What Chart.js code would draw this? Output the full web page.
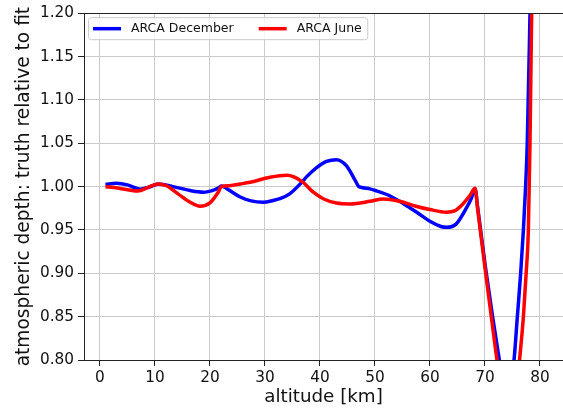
<!DOCTYPE html>
<html>
<head>
<meta charset="utf-8">
<script src="https://cdn.jsdelivr.net/npm/chart.js@4"></script>
<style>
    html, body { margin: 0; padding: 0; background: #fff; }
    #wrap { width: 563px; height: 409px; }
</style>
</head>
<body>
<div id="wrap"><canvas id="depthRatio" width="563" height="409"></canvas></div>
<script>
// altitude [km] and truth/fit ratio, December profile
const altDec = [1, 3, 5, 7.3, 9, 10.6, 13.3, 16.4, 18.8, 20.9, 21.7, 22.1, 22.6, 23.6, 25.5, 27.5,
    29.7, 31.5, 32.7, 34.5, 36.7, 37.6, 39.4, 41.2, 43, 44.8, 46.1, 46.6, 47.0, 47.6, 49.1, 50.3,
    52.5, 54.5, 56, 57.6, 60, 62, 63, 64.8, 66.7, 67.5, 68.2, 68.7, 70.1, 71.4, 72.7, 73.6,
    74.4, 75.3, 75.9, 76.5, 77.0, 77.4, 77.7, 78.2, 78.6];
const depthDec = [1.0025, 1.0038, 1.002, 0.997, 0.9995, 1.003, 1.000, 0.9954, 0.9935, 0.9966, 0.999, 1.0008, 0.9995, 0.9954, 0.988, 0.9835,
    0.982, 0.984, 0.986, 0.9916, 1.005, 1.0115, 1.022, 1.029, 1.031, 1.0241, 1.0107, 1.005, 1.0004, 0.999, 0.9974, 0.995,
    0.990, 0.983, 0.977, 0.9705, 0.960, 0.954, 0.953, 0.957, 0.976, 0.986, 0.9974, 0.975, 0.907, 0.850, 0.797, 0.762,
    0.752, 0.80, 0.85, 0.90, 0.95, 1.00, 1.05, 1.20, 1.33];

// June profile
const altJun = [1, 2.5, 4.2, 6.9, 8.8, 10.6, 12.1, 14.2, 16.4, 18.2, 20, 21.5, 22.1, 23.6, 25.5, 27.3,
    30.9, 34, 36.7, 38.8, 40.6, 43, 45.5, 49.1, 51.5, 54.5, 57.6, 60, 63, 64.5, 66, 67.3,
    68.2, 68.7, 70.1, 71.2, 72.2, 73.3, 74.6, 75.6, 76.3, 77.0, 77.5, 77.9, 78.2, 78.5, 78.9];
const depthJun = [0.9998, 0.999, 0.9973, 0.995, 0.9992, 1.003, 1.001, 0.9916, 0.982, 0.9774, 0.9813, 0.9935, 1.000, 1.0011, 1.003, 1.005,
    1.0107, 1.013, 1.006, 0.9935, 0.986, 0.981, 0.980, 0.983, 0.9858, 0.983, 0.977, 0.9735, 0.9705, 0.972, 0.980, 0.990,
    0.998, 0.973, 0.902, 0.848, 0.80, 0.757, 0.735, 0.755, 0.80, 0.85, 0.90, 0.95, 1.05, 1.20, 1.33];

const xTicks = [0, 10, 20, 30, 40, 50, 60, 70, 80];
const yTicks = [0.80, 0.85, 0.90, 0.95, 1.00, 1.05, 1.10, 1.15, 1.20];

const FONT = "'DejaVu Sans', sans-serif";

function toPoints(xs, ys) {
    return xs.map((x, i) => ({ x: x, y: ys[i] }));
}

// top spine plus a boxed legend inside the upper-left corner of the plot
const frame = {
    id: "frame",
    afterDraw(chart) {
        const { ctx, chartArea: a } = chart;
        ctx.save();
        ctx.strokeStyle = "#222";
        ctx.lineWidth = 1;
        ctx.beginPath();
        ctx.moveTo(a.left, Math.round(a.top) + 0.5);
        ctx.lineTo(a.right, Math.round(a.top) + 0.5);
        ctx.stroke();

        ctx.font = "12.5px " + FONT;
        ctx.textBaseline = "middle";
        const boxL = a.left + 4.5, boxT = a.top + 4.5, boxH = 22;
        const rowY = boxT + boxH / 2;
        let x = boxL + 4.5;
        const items = chart.data.datasets.map((ds) => {
            const it = { label: ds.label, color: ds.borderColor, x: x };
            x += 28 + 10 + ctx.measureText(ds.label).width + 25;
            return it;
        });
        const boxR = x - 25 + 6;
        ctx.fillStyle = "rgba(255,255,255,0.8)";
        ctx.strokeStyle = "#cccccc";
        ctx.beginPath();
        ctx.roundRect(boxL, boxT, boxR - boxL, boxH, 3);
        ctx.fill();
        ctx.stroke();
        items.forEach((it) => {
            ctx.strokeStyle = it.color;
            ctx.lineWidth = 3.5;
            ctx.beginPath();
            ctx.moveTo(it.x, rowY);
            ctx.lineTo(it.x + 28, rowY);
            ctx.stroke();
            ctx.fillStyle = "#111";
            ctx.fillText(it.label, it.x + 38, rowY);
        });
        ctx.restore();
    },
};

const config = {
    type: "line",
    data: {
        datasets: [
            {
                label: "ARCA December",
                data: toPoints(altDec, depthDec),
                borderColor: "#0000ff",
                borderWidth: 3.5,
                pointRadius: 0,
                cubicInterpolationMode: "monotone",
                clip: 0,
                order: 2,
            },
            {
                label: "ARCA June",
                data: toPoints(altJun, depthJun),
                borderColor: "#ff0000",
                borderWidth: 3.5,
                pointRadius: 0,
                cubicInterpolationMode: "monotone",
                clip: 0,
                order: 1,
            },
        ],
    },
    options: {
        responsive: false,
        animation: false,
        layout: { padding: { top: 12, right: 0, bottom: 0, left: 0 } },
        plugins: {
            legend: { display: false },
            tooltip: { enabled: false },
        },
        scales: {
            x: {
                type: "linear",
                min: -2.9,
                max: 84.2,
                afterBuildTicks: (scale) => {
                    scale.ticks = xTicks.map((v) => ({ value: v }));
                },
                afterFit: (scale) => {
                    scale.height = 49;
                },
                ticks: {
                    color: "#111",
                    font: { family: FONT, size: 15.3 },
                    padding: 3,
                    maxRotation: 0,
                },
                grid: {
                    color: "#cbcbcb",
                    lineWidth: 1,
                    tickColor: "#222",
                    tickLength: 6,
                },
                border: { display: true, color: "#222", width: 1 },
                title: {
                    display: true,
                    text: "altitude [km]",
                    color: "#111",
                    font: { family: FONT, size: 18.3 },
                    padding: { top: 0, bottom: 1 },
                },
            },
            y: {
                type: "linear",
                min: 0.8,
                max: 1.2,
                afterBuildTicks: (scale) => {
                    scale.ticks = yTicks.map((v) => ({ value: v }));
                },
                afterFit: (scale) => {
                    scale.width = 84;
                },
                ticks: {
                    color: "#111",
                    font: { family: FONT, size: 15.3 },
                    padding: 4,
                    callback: (v) => v.toFixed(2),
                },
                grid: {
                    color: "#cbcbcb",
                    lineWidth: 1,
                    tickColor: "#222",
                    tickLength: 6,
                },
                border: { display: true, color: "#222", width: 1 },
                title: {
                    display: true,
                    text: "atmospheric depth: truth relative to fit",
                    color: "#111",
                    font: { family: FONT, size: 18.6 },
                    padding: { top: 13, bottom: 0 },
                },
            },
        },
    },
    plugins: [frame],
};

new Chart(document.getElementById("depthRatio"), config);
</script>
</body>
</html>
